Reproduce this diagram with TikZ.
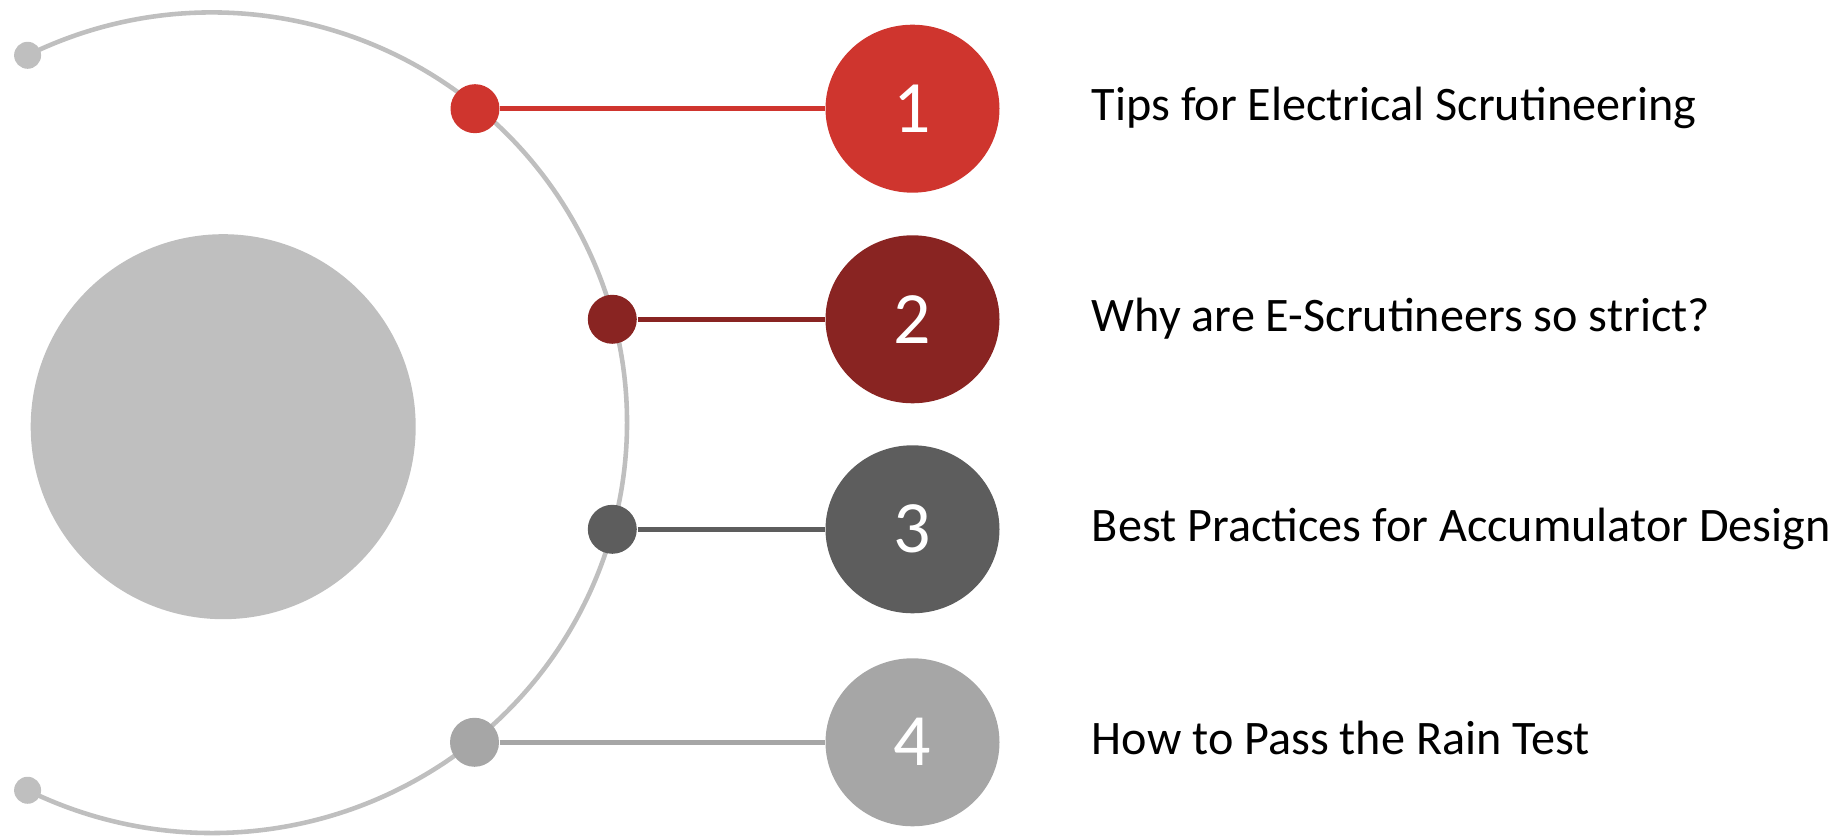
\documentclass[tikz,border=0pt]{standalone}
\usepackage{fontspec}
\setmainfont{Carlito}
\definecolor{rowred}{RGB}{207,53,46}
\definecolor{rowmaroon}{RGB}{137,36,34}
\definecolor{rowdark}{RGB}{93,93,93}
\definecolor{rowlight}{RGB}{166,166,166}
\definecolor{arcgray}{RGB}{191,191,191}
\usetikzlibrary{positioning,shapes.geometric}

\begin{document}
\begin{tikzpicture}[
  num/.style={ellipse,minimum width=1.74cm,minimum height=1.68cm,inner sep=0,text=white,font=\fontsize{21}{21}\selectfont},
  joint/.style={circle,minimum size=0.49cm,inner sep=0},
  lbl/.style={inner sep=0,text height=0.34cm,text depth=0.1cm,font=\fontsize{13.7}{16}\selectfont},
  link/.style={line width=1.35pt}]
  \useasboundingbox (0,0) rectangle (18.35,8.37);
  % Hub and arc
  \node[circle,fill=arcgray,minimum size=3.85cm,inner sep=0] (hub) at (2.232,4.103) {};
  \coordinate (top) at (0.276,7.817);
  \draw[arcgray,line width=1.3pt] (top) arc[start angle=116.4,end angle=-116.4,x radius=4.149,y radius=4.103] coordinate (bot);
  \node[joint,fill=arcgray,minimum size=0.27cm] (e1) at (top) {};
  \node[joint,fill=arcgray,minimum size=0.27cm] (e2) at (bot) {};
  % Row 1
  \node[joint,fill=rowred] (d1) at (4.75,7.283) {};
  \node[num,fill=rowred] (c1) at (9.125,7.283) {1};
  \node[lbl,right=0.91cm of c1] (t1) {Tips for Electrical Scrutineering};
  \draw[link,rowred] (d1) -- (c1);
  % Row 2
  \node[joint,fill=rowmaroon] (d2) at (6.123,5.177) {};
  \node[num,fill=rowmaroon] (c2) at (9.125,5.177) {2};
  \node[lbl,right=0.91cm of c2] (t2) {Why are E-Scrutineers so strict?};
  \draw[link,rowmaroon] (d2) -- (c2);
  % Row 3
  \node[joint,fill=rowdark] (d3) at (6.123,3.077) {};
  \node[num,fill=rowdark] (c3) at (9.125,3.077) {3};
  \node[lbl,right=0.91cm of c3] (t3) {Best Practices for Accumulator Design};
  \draw[link,rowdark] (d3) -- (c3);
  % Row 4
  \node[joint,fill=rowlight] (d4) at (4.745,0.947) {};
  \node[num,fill=rowlight] (c4) at (9.125,0.947) {4};
  \node[lbl,right=0.91cm of c4] (t4) {How to Pass the Rain Test};
  \draw[link,rowlight] (d4) -- (c4);
\end{tikzpicture}
\end{document}
